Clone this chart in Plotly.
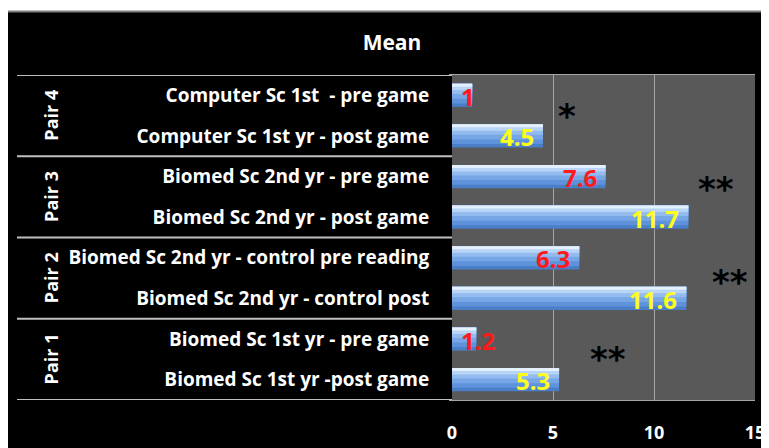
import plotly.graph_objects as go

categories = [
    "Computer Sc 1st  - pre game",
    "Computer Sc 1st yr - post game",
    "Biomed Sc 2nd yr - pre game",
    "Biomed Sc 2nd yr - post game",
    "Biomed Sc 2nd yr - control pre reading",
    "Biomed Sc 2nd yr - control post",
    "Biomed Sc 1st yr - pre game",
    "Biomed Sc 1st yr -post game",
]
means = [1, 4.5, 7.6, 11.7, 6.3, 11.6, 1.2, 5.3]
label_text = ["1", "4.5", "7.6", "11.7", "6.3", "11.6", "1.2", "5.3"]
phase = ["pre", "post", "pre", "post", "pre", "post", "pre", "post"]
pairs = ["Pair 4", "Pair 3", "Pair 2", "Pair 1"]
significance = ["*", "**", "**", "**"]
x_ticks = [0, 5, 10, 15]

FONT = "'Open Sans', sans-serif"
idx = list(range(len(categories)))

# page body has an 8px margin; figure is sized to fill the rest of the window
FW, FH = 761, 440
ML, MR, MT, MB = 444, 14, 67, 48
PW, PH = FW - ML - MR, FH - MT - MB

fig = go.Figure()
W = 0.57
layers = [
    (W, "#4a7fc8"),
    (W * 0.85, "#5e93dc"),
    (W * 0.65, "#76a6e6"),
    (W * 0.45, "#93bbef"),
    (W * 0.28, "#b8d4f6"),
    (W * 0.13, "#e4f0fd"),
]
for w, col in layers:
    fig.add_trace(go.Bar(
        y=idx, x=means, orientation="h",
        width=w, offset=-W / 2,
        marker=dict(color=col, line=dict(width=0)),
        hoverinfo="skip", showlegend=False,
    ))

# value labels
for i, (v, t, p) in enumerate(zip(means, label_text, phase)):
    col = "#ff1a1a" if p == "pre" else "#ffff1a"
    if v < 2:
        fig.add_annotation(x=0, y=i, text=t, xanchor="left", xshift=7, yshift=-1,
                           showarrow=False, font=dict(family=FONT, size=24, color=col, weight="bold"))
    else:
        fig.add_annotation(x=v, y=i, text=t, xanchor="right", xshift=-7, yshift=-1,
                           showarrow=False, font=dict(family=FONT, size=24, color=col, weight="bold"))

# significance marks
sig_x = [5.7, 13.05, 13.75, 7.7]
sig_y = [0.5, 2.3, 4.6, 6.5]
for s, sx, sy in zip(significance, sig_x, sig_y):
    fig.add_annotation(x=sx, y=sy, text=s, showarrow=False,
                       font=dict(family="DejaVu Sans", size=34, color="black", weight="bold"))

# pair group labels and separators
L = (9 - ML) / PW
for k, p in enumerate(pairs):
    fig.add_annotation(x=(29 - ML) / PW, xref="paper", y=2 * k + 0.5, text=p, textangle=-90,
                       showarrow=False, font=dict(family=FONT, size=18, color="white", weight="bold"))
for k in range(len(pairs) + 1):
    yv = 2 * k - 0.5
    fig.add_shape(type="line", xref="paper", x0=L, x1=0, y0=yv, y1=yv,
                  line=dict(color="#bfbfbf", width=2))

# thin white strip + gray rule at the very top
fig.add_shape(type="rect", xref="paper", yref="paper", x0=-2, x1=1.2,
              y0=(FH - MB - 3) / PH, y1=1.4,
              fillcolor="white", line=dict(width=0), layer="above")
fig.add_shape(type="line", xref="paper", yref="paper", x0=-2, x1=1.2,
              y0=(FH - MB - 3.5) / PH, y1=(FH - MB - 3.5) / PH,
              line=dict(color="#808080", width=2))

fig.update_layout(
    width=FW, height=FH,
    margin=dict(l=ML, r=MR, t=MT, b=MB, autoexpand=False),
    paper_bgcolor="black", plot_bgcolor="#595959",
    barmode="overlay",
    title=dict(text="Mean", x=(392 - 8) / FW, xref="container", xanchor="center",
               y=1 - (43 - 8) / FH, yref="container", yanchor="middle",
               font=dict(family=FONT, size=21, color="white", weight="bold"), automargin=False),
    xaxis=dict(range=[0, 15], tickvals=x_ticks, ticktext=[str(t) for t in x_ticks],
               showgrid=True, gridcolor="#a6a6a6", gridwidth=1, zeroline=False,
               ticks="outside", ticklen=16, tickcolor="black", automargin=False,
               tickfont=dict(family=FONT, size=18, color="white", weight="bold"),
               showline=True, linecolor="#a6a6a6", mirror=True, fixedrange=True),
    yaxis=dict(tickvals=idx, ticktext=categories, range=[7.5, -0.5], automargin=False,
               showgrid=False, zeroline=False, ticks="outside", ticklen=16, tickcolor="black",
               tickfont=dict(family=FONT, size=19, color="white", weight="bold"),
               showline=True, linecolor="black", linewidth=3, fixedrange=True),
)

fig.write_html("out.html")
